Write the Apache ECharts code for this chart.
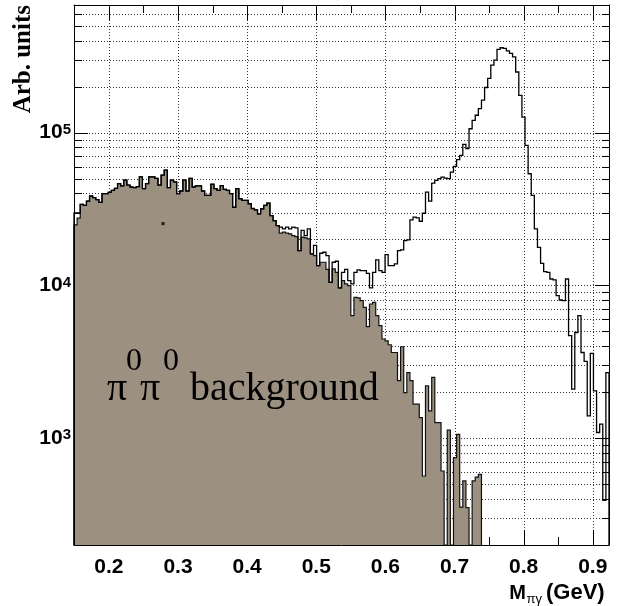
<!DOCTYPE html>
<html>
<head>
<meta charset="utf-8">
<script src="https://cdn.jsdelivr.net/npm/echarts@6/dist/echarts.min.js"></script>
<style>
html,body{margin:0;padding:0;background:#fff;}
#chart{width:621px;height:606px;}
</style>
</head>
<body>
<div id="chart"></div>
<script>
// ---------- data ----------
const binStart = 0.1495;      // low edge of first bin (GeV)
const binWidth = 0.0045;      // bin width (GeV)
const xRange = [0.1495, 0.9235];
const yRange = [200, 685000];

// total M(pi gamma) distribution, 172 bins
const totalCounts = [
  29800, 29800, 33900, 33400, 35650, 38500, 37550, 36400, 34950, 39900,
  39900, 40700, 41950, 43250, 46450, 44800, 48850, 45300, 44100, 43700,
  44400, 51350, 43050, 46450, 51350, 51350, 50150, 45300, 52700, 56900,
  43700, 48850, 47600, 39900, 41500, 48850, 41500, 50150, 44100, 44800,
  44800, 41500, 38850, 38850, 45950, 43050, 41950, 45050, 42600, 41950,
  39900, 32500, 43050, 36950, 36000, 36000, 34250, 31900, 31250, 29400,
  31750, 33400, 34600, 28650, 26550, 24600, 24050, 23480, 24050, 23480,
  24050, 23840, 16910, 22910, 21220, 23480, 16100, 18280, 13500, 16240,
  16490, 15690, 10480, 14180, 14400, 9630, 12190, 12750, 10750, 10230,
  12190, 12630, 12500, 12500, 12000, 9630, 12190, 14690, 12500, 12190,
  15920, 13500, 13500, 13850, 16910, 17100, 19660, 19880, 26890, 27980,
  27720, 26320, 29690, 40790, 35650, 46750, 48700, 50000, 51200, 50430,
  50000, 55200, 60170, 66560, 71100, 83930, 78600, 106100, 120400, 130000,
  143800, 163100, 197600, 226400, 276900, 298400, 350900, 359700, 356300, 343400,
  330100, 313300, 249500, 175600, 126500, 82650, 53850, 38820, 23480, 17740,
  13960, 12310, 12190, 11020, 10860, 8570, 8030, 7950, 11020, 4690,
  2095, 4920, 6340, 3640, 3180, 1400, 3590, 2040, 1090, 1235,
  392, 2690
];

// pi0 pi0 background, 131 bins from the same start
const backgroundCounts = [
  24940, 27550, 33900, 33400, 35650, 38500, 37550, 36400, 34950, 39900,
  39900, 40700, 41950, 43250, 46450, 44800, 48850, 45300, 44100, 43700,
  44400, 51350, 43050, 46450, 51350, 51350, 50150, 45300, 52700, 56900,
  43700, 48850, 47600, 39900, 41500, 48850, 41500, 50150, 44100, 44800,
  44800, 41500, 38850, 38850, 45950, 43050, 41950, 45050, 42600, 41950,
  39900, 32500, 43050, 36950, 36000, 36000, 34250, 31900, 31250, 29400,
  31750, 33400, 34600, 28650, 26550, 24600, 21980, 22310, 21980, 21780,
  21220, 20900, 16910, 20690, 20490, 20190, 16100, 15690, 13500, 14180,
  14180, 12750, 10480, 12820, 12190, 9630, 10750, 10230, 9970, 6340,
  8350, 8280, 7950, 7180, 5370, 7560, 7740, 6340, 5450, 4460,
  4340, 4090, 3640, 3640, 2380, 3970, 1990, 2690, 2380, 1670,
  1670, 1365, 566, 2200, 1510, 2500, 1265, 1265, 610, 0,
  1128, 0, 746, 1061, 354, 525, 351, 0, 525, 557,
  580
];

const strayPoint = [[0.2783, 25400]];

const xMajorTicks = [0.2, 0.3, 0.4, 0.5, 0.6, 0.7, 0.8, 0.9];
const xMinorTicks = [0.25, 0.35, 0.45, 0.55, 0.65, 0.75, 0.85];
const yMajorTicks = [1000, 10000, 100000];
const yMinorTicks = [300, 400, 500, 600, 700, 800, 900,
  2000, 3000, 4000, 5000, 6000, 7000, 8000, 9000,
  20000, 30000, 40000, 50000, 60000, 70000, 80000, 90000,
  200000, 300000, 400000, 500000, 600000];

const xTitle = { main: 'M', sub: 'πγ', unit: '(GeV)' };
const yTitle = 'Arb. units';
const annotation = { pi: 'π', zero: '0', text: 'background' };

// ---------- helpers ----------
const fill = '#9c9080';
const sans = 'Liberation Sans, Arial, sans-serif';
const serif = 'Liberation Serif, Times New Roman, serif';

function stepPoints(counts, api) {
  const base = yRange[0];
  const pts = [api.coord([binStart, base])];
  counts.forEach((c, i) => {
    const x0 = binStart + i * binWidth;
    const x1 = binStart + (i + 1) * binWidth;
    const v = c > 0 ? c : base;
    pts.push(api.coord([x0, v]));
    pts.push(api.coord([x1, v]));
  });
  pts.push(api.coord([binStart + counts.length * binWidth, base]));
  return pts;
}

function renderGrid(params, api) {
  const cs = params.coordSys;
  const left = cs.x, right = cs.x + cs.width, top = cs.y, bottom = cs.y + cs.height;
  const dotted = { stroke: '#333', lineWidth: 1, lineDash: [1, 2], fill: null };
  const solid = { stroke: '#000', lineWidth: 1, fill: null };
  const ch = [];
  const px = v => Math.round(api.coord([v, yRange[0]])[0]) + 0.5;
  const py = v => Math.round(api.coord([xRange[0], v])[1]) + 0.5;
  xMajorTicks.forEach(v => {
    const x = px(v);
    ch.push({ type: 'line', shape: { x1: x, y1: top, x2: x, y2: bottom }, style: dotted });
    ch.push({ type: 'line', shape: { x1: x, y1: bottom, x2: x, y2: bottom - 15 }, style: solid });
    ch.push({ type: 'line', shape: { x1: x, y1: top, x2: x, y2: top + 15 }, style: solid });
  });
  xMinorTicks.forEach(v => {
    const x = px(v);
    ch.push({ type: 'line', shape: { x1: x, y1: bottom, x2: x, y2: bottom - 8 }, style: solid });
    ch.push({ type: 'line', shape: { x1: x, y1: top, x2: x, y2: top + 8 }, style: solid });
  });
  yMajorTicks.forEach(v => {
    const y = py(v);
    ch.push({ type: 'line', shape: { x1: left, y1: y, x2: right, y2: y }, style: dotted });
    ch.push({ type: 'line', shape: { x1: left, y1: y, x2: left + 14, y2: y }, style: solid });
    ch.push({ type: 'line', shape: { x1: right, y1: y, x2: right - 14, y2: y }, style: solid });
  });
  yMinorTicks.forEach(v => {
    const y = py(v);
    ch.push({ type: 'line', shape: { x1: left, y1: y, x2: right, y2: y }, style: dotted });
    ch.push({ type: 'line', shape: { x1: left, y1: y, x2: left + 8, y2: y }, style: solid });
    ch.push({ type: 'line', shape: { x1: right, y1: y, x2: right - 7, y2: y }, style: solid });
  });
  return { type: 'group', children: ch };
}

function renderFill(params, api) {
  return { type: 'polygon', shape: { points: stepPoints(backgroundCounts, api) },
           style: { fill: fill, stroke: null } };
}
function renderBgLine(params, api) {
  return { type: 'polyline', shape: { points: stepPoints(backgroundCounts, api) },
           style: { stroke: '#111', lineWidth: 1.2, fill: null } };
}
function renderTotalLine(params, api) {
  return { type: 'polyline', shape: { points: stepPoints(totalCounts, api) },
           style: { stroke: '#000', lineWidth: 1.3, fill: null } };
}

const chart = echarts.init(document.getElementById('chart'), null, { renderer: 'canvas' });

const frameAxisLine = { show: true, onZero: false, lineStyle: { color: '#000', width: 1 } };

chart.setOption({
  animation: false,
  backgroundColor: '#fff',
  grid: { left: 74, top: 5, right: 12, bottom: 61, containLabel: false },
  xAxis: [
    {
      type: 'value', position: 'bottom', min: xRange[0], max: xRange[1],
      splitNumber: 8, minInterval: 0.1, maxInterval: 0.1, z: 10,
      axisLine: frameAxisLine, axisTick: { show: false }, splitLine: { show: false },
      axisLabel: {
        show: true, showMinLabel: false, showMaxLabel: false, margin: 12,
        fontFamily: sans, fontWeight: 'bold', fontSize: 21, color: '#000',
        formatter: v => v.toFixed(1)
      }
    },
    {
      type: 'value', position: 'top', min: xRange[0], max: xRange[1], z: 10,
      axisLine: frameAxisLine, axisTick: { show: false }, splitLine: { show: false },
      axisLabel: { show: false }
    }
  ],
  yAxis: [
    {
      type: 'log', logBase: 10, position: 'left', min: yRange[0], max: yRange[1], z: 10,
      axisLine: frameAxisLine, axisTick: { show: false }, splitLine: { show: false },
      minorTick: { show: false }, minorSplitLine: { show: false },
      axisLabel: {
        show: true, showMinLabel: false, showMaxLabel: false, margin: 3,
        formatter: v => '{b|10}{e|' + Math.round(Math.log10(v)) + '}',
        rich: {
          b: { fontFamily: sans, fontWeight: 'bold', fontSize: 21, color: '#000', verticalAlign: 'middle', lineHeight: 21 },
          e: { fontFamily: sans, fontWeight: 'bold', fontSize: 15, color: '#000', verticalAlign: 'top', lineHeight: 15, padding: [0, 0, 16, 0] }
        }
      }
    },
    {
      type: 'log', logBase: 10, position: 'right', min: yRange[0], max: yRange[1], z: 10,
      axisLine: frameAxisLine, axisTick: { show: false }, splitLine: { show: false },
      axisLabel: { show: false }
    }
  ],
  series: [
    { type: 'custom', name: 'grid', xAxisIndex: 0, yAxisIndex: 0, z: 1, silent: true,
      renderItem: renderGrid, data: [[xRange[0], yRange[0]]] },
    { type: 'custom', name: 'pi0pi0 background fill', xAxisIndex: 0, yAxisIndex: 0, z: 2, silent: true,
      renderItem: renderFill, data: [[xRange[0], yRange[0]]] },
    { type: 'custom', name: 'pi0pi0 background outline', xAxisIndex: 0, yAxisIndex: 0, z: 3, silent: true,
      renderItem: renderBgLine, data: [[xRange[0], yRange[0]]] },
    { type: 'custom', name: 'total', xAxisIndex: 0, yAxisIndex: 0, z: 4, silent: true,
      renderItem: renderTotalLine, data: [[xRange[0], yRange[0]]] },
    { type: 'scatter', name: 'stray', xAxisIndex: 0, yAxisIndex: 0, z: 5, silent: true,
      symbol: 'rect', symbolSize: 3, itemStyle: { color: '#000' }, data: strayPoint }
  ],
  graphic: [
    { type: 'text', x: 24, y: 5, rotation: Math.PI / 2, z: 20,
      style: { text: yTitle, font: 'bold 25px ' + serif, fill: '#000', align: 'right', verticalAlign: 'middle' } },
    { type: 'text', x: 546, y: 582, z: 20,
      style: { text: xTitle.unit, font: 'bold 22px ' + sans, fill: '#000', align: 'left', verticalAlign: 'top' } },
    { type: 'text', x: 542, y: 593, z: 20,
      style: { text: xTitle.sub, font: '13px ' + sans, fill: '#000', align: 'right', verticalAlign: 'top' } },
    { type: 'text', x: 526, y: 583, z: 20,
      style: { text: xTitle.main, font: 'bold 20px ' + sans, fill: '#000', align: 'right', verticalAlign: 'top' } },
    { type: 'text', x: 107, y: 389.5, z: 20,
      style: { text: annotation.pi, font: '40px ' + serif, fill: '#000', align: 'left', verticalAlign: 'middle' } },
    { type: 'text', x: 126, y: 362, z: 20,
      style: { text: annotation.zero, font: '32px ' + serif, fill: '#000', align: 'left', verticalAlign: 'middle' } },
    { type: 'text', x: 140, y: 389.5, z: 20,
      style: { text: annotation.pi, font: '40px ' + serif, fill: '#000', align: 'left', verticalAlign: 'middle' } },
    { type: 'text', x: 163, y: 362, z: 20,
      style: { text: annotation.zero, font: '32px ' + serif, fill: '#000', align: 'left', verticalAlign: 'middle' } },
    { type: 'text', x: 190, y: 389.5, z: 20,
      style: { text: annotation.text, font: '40px ' + serif, fill: '#000', align: 'left', verticalAlign: 'middle' } }
  ]
});
</script>
</body>
</html>
